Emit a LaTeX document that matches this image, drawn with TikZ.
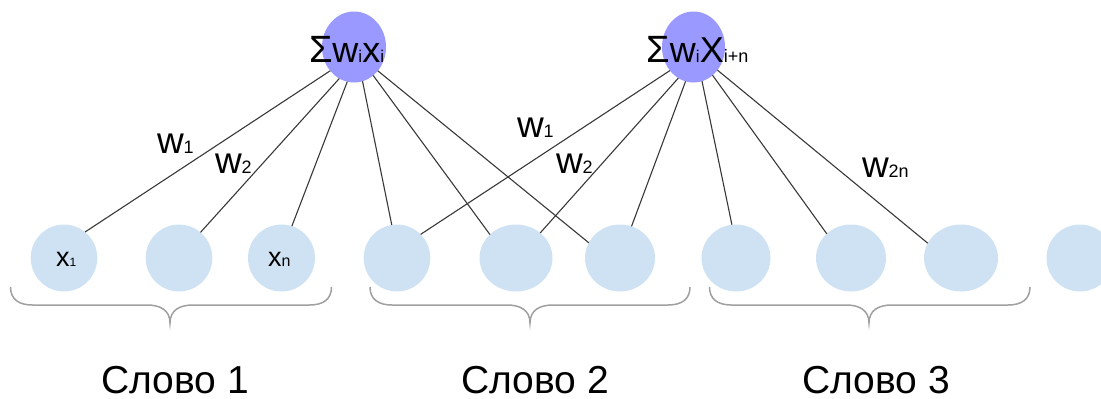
\documentclass[tikz,border=0pt]{standalone}
\usepackage{fontspec}
\setmainfont{Liberation Sans}
\usetikzlibrary{shapes.geometric}
\definecolor{inblue}{HTML}{CFE2F3}
\definecolor{sumpurple}{HTML}{9999FF}
\definecolor{wirecol}{HTML}{383838}
\definecolor{bracecol}{HTML}{A0A0A0}
\newcommand\fsz[1]{\fontsize{#1}{#1}\selectfont}
\begin{document}
\begin{tikzpicture}[x=1pt,y=-1pt,
  inp/.style={ellipse, fill=inblue, draw=none, minimum height=67pt, inner sep=0pt, outer sep=0pt},
  sumnode/.style={ellipse, fill=sumpurple, draw=none, minimum width=64pt, minimum height=71pt, inner sep=0pt, outer sep=0pt},
  wire/.style={draw=wirecol, line width=1.1pt},
  brc/.style={draw=bracecol, line width=1.5pt},
  txt/.style={inner sep=0pt, outer sep=0pt, anchor=base west, text=black},
  word/.style={inner sep=0pt, outer sep=0pt, anchor=base, text=black, font=\fsz{39}},
]
\useasboundingbox (0,0) rectangle (1101,399);
\clip (0,0) rectangle (1101,399);

% sum nodes
\node[sumnode] (t1) at (354,47) {};
\node[sumnode, minimum width=63pt] (t2) at (693.5,47) {};

% input nodes
\node[inp, minimum width=66.6pt] (b1) at (64,258) {};
\node[inp, minimum width=66.6pt] (b2) at (179,258) {};
\node[inp, minimum width=67pt] (b3) at (281.5,258) {};
\node[inp, minimum width=66.6pt] (b4) at (397,258) {};
\node[inp, minimum width=73pt] (b5) at (516,258) {};
\node[inp, minimum width=70pt] (b6) at (620,258) {};
\node[inp, minimum width=69pt] (b7) at (736,258) {};
\node[inp, minimum width=70pt] (b8) at (851,258) {};
\node[inp, minimum width=74pt] (b9) at (961,258) {};
\node[inp, minimum width=67pt] (b10) at (1080,258) {};

% connectors from first sum node
\draw[wire] (t1.225) -- (b1.51);
\draw[wire] (t1.245) -- (b2.50);
\draw[wire] (t1.259) -- (b3.72);
\draw[wire] (t1.284) -- (b4.99);
\draw[wire] (t1.304) -- (b5.138);
\draw[wire] (t1.315) -- (b6.154);

% connectors from second sum node
\draw[wire] (t2.225) -- (b4.45);
\draw[wire] (t2.244) -- (b5.46);
\draw[wire] (t2.257) -- (b6.70);
\draw[wire] (t2.284) -- (b7.97);
\draw[wire] (t2.304) -- (b8.135);
\draw[wire] (t2.316) -- (b9.156);

% sum texts
\node[txt] (s1) at (309,62) {\fsz{38}Σ\fsz{36}w\fsz{17}i\fsz{36}x\fsz{17}i};
\node[txt] (s2) at (646.5,62) {\fsz{38}Σ\fsz{36}w\fsz{17}i\fsz{36}X\fsz{18}i+n};

% input texts
\node[txt] (x1) at (56,266.7) {\fsz{27}x\fsz{12}1};
\node[txt] (xn) at (268,266.7) {\fsz{27}x\fsz{16}n};

% weight labels
\node[txt] (wa1) at (157,153) {\fsz{37}w\fsz{18}1};
\node[txt] (wa2) at (215,173) {\fsz{37}w\fsz{18}2};
\node[txt] (wb1) at (517,137) {\fsz{37}w\fsz{18}1};
\node[txt] (wb2) at (556,173) {\fsz{37}w\fsz{18}2};
\node[txt] (wb2n) at (862,177) {\fsz{37}w\fsz{18}2n};

% braces
\foreach \xa/\xm/\xb in {10.5/170/331.5, 370/530/690, 709.5/869/1030}{
  \draw[brc] (\xa,287) .. controls (\xa,299) and (\xa+8,305) .. (\xa+22,305)
    -- (\xm-23,305) .. controls (\xm-10,305) and (\xm,310) .. (\xm,323)
    .. controls (\xm,310) and (\xm+10,305) .. (\xm+23,305)
    -- (\xb-22,305) .. controls (\xb-8,305) and (\xb,299) .. (\xb,287);
}

% word labels
\node[word] (w1) at (175,393) {Слово 1};
\node[word] (w2) at (535,393) {Слово 2};
\node[word] (w3) at (876,393) {Слово 3};
\end{tikzpicture}
\end{document}
